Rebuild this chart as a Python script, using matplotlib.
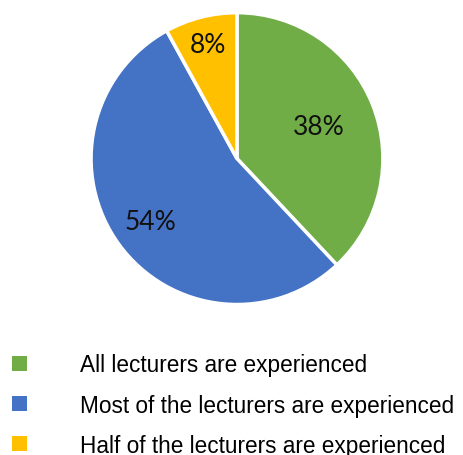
import numpy as np
import matplotlib.pyplot as plt
from matplotlib.patches import Patch

# data
categories = ["All lecturers are experienced",
              "Most of the lecturers are experienced",
              "Half of the lecturers are experienced"]
shares = [38, 54, 8]
colors = ["#70AD47", "#4472C4", "#FFC000"]
label_radius = [0.60, 0.73, 0.81]

fig = plt.figure(figsize=(4.63, 4.56), dpi=100)
ax = fig.add_axes([0.1965, 0.330, 0.6307, 0.640])

wedges, _ = ax.pie(shares, colors=colors, startangle=90, counterclock=False,
                   wedgeprops=dict(edgecolor="white", linewidth=2.5))
ax.set_xlim(-1, 1)
ax.set_ylim(-1, 1)
ax.set_aspect("equal")

# percent labels at the middle angle of each wedge
for w, val, r in zip(wedges, shares, label_radius):
    ang = np.deg2rad((w.theta1 + w.theta2) / 2)
    ax.text(r * np.cos(ang), r * np.sin(ang), f"{val}%", ha="center", va="center",
            fontsize=19, color="#111111", family="Lato")

handles = [Patch(facecolor=c, edgecolor="none") for c in colors]
fig.legend(handles, categories, loc="upper left", bbox_to_anchor=(0.026, 0.223),
           frameon=False, prop={"family": "Liberation Sans", "size": 16.3},
           borderpad=0, borderaxespad=0,
           handlelength=0.66, handleheight=0.66, handletextpad=2.35, labelspacing=0.76)

plt.savefig("out.png", dpi=100)
